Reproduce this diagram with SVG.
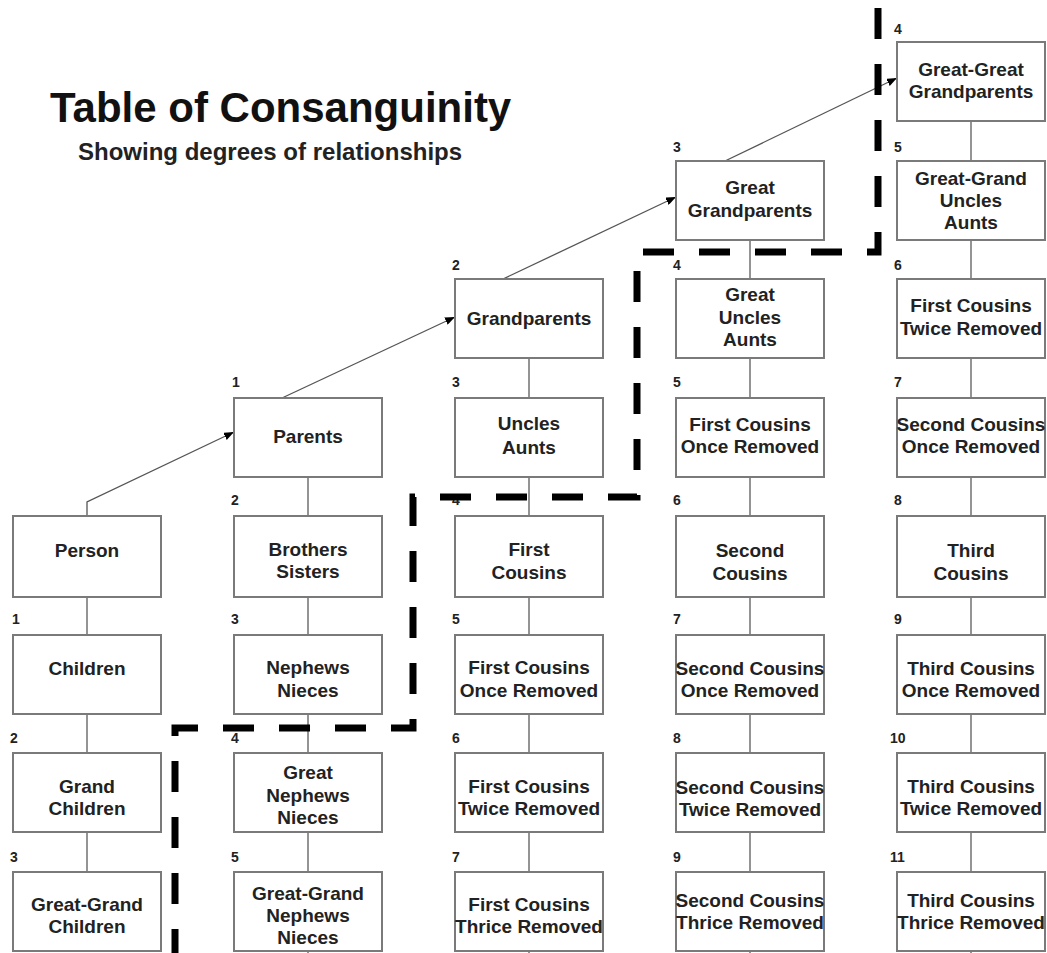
<svg xmlns="http://www.w3.org/2000/svg" width="1047" height="953" viewBox="0 0 1047 953">
<defs>
<style>
.bg{fill:#ffffff}
.box{fill:#ffffff;stroke:#7a7a7a;stroke-width:2}
.t{font-family:"Liberation Sans",Arial,sans-serif;font-weight:bold;font-size:19px;fill:#222222;text-anchor:middle}
.n{font-family:"Liberation Sans",Arial,sans-serif;font-weight:bold;font-size:14px;fill:#222222}
.v{stroke:#7a7a7a;stroke-width:1.6;fill:none}
.a{stroke:#555555;stroke-width:1.3;fill:none;marker-end:url(#ah)}
.title{font-family:"Liberation Sans",Arial,sans-serif;font-weight:bold;font-size:42px;fill:#111111}
.sub{font-family:"Liberation Sans",Arial,sans-serif;font-weight:bold;font-size:24px;fill:#222222}
.dash{stroke:#000000;stroke-width:7;fill:none;stroke-dasharray:31 25;stroke-dashoffset:48}
</style>
<marker id="ah" markerWidth="10" markerHeight="8" refX="10" refY="4" orient="auto" markerUnits="userSpaceOnUse">
<path d="M0,0 L10,4 L0,8 Z" fill="#000000"/>
</marker>
</defs>
<rect class="bg" x="0" y="0" width="1047" height="953"/>
<text class="title" x="50" y="122">Table of Consanguinity</text>
<text class="sub" x="78" y="160">Showing degrees of relationships</text>

<g id="connectors">
<path class="v" d="M87,597 V635 M87,714 V753 M87,832 V872"/>
<path class="v" d="M308,477 V516 M308,597 V635 M308,714 V753 M308,832 V872 M308,951 V953"/>
<path class="v" d="M529,358 V398 M529,477 V516 M529,597 V635 M529,714 V753 M529,832 V872 M529,951 V953"/>
<path class="v" d="M750,240 V279 M750,358 V398 M750,477 V516 M750,597 V635 M750,714 V753 M750,832 V872 M750,951 V953"/>
<path class="v" d="M971,121 V161 M971,240 V279 M971,358 V398 M971,477 V516 M971,597 V635 M971,714 V753 M971,832 V872 M971,951 V953"/>
<path class="a" d="M87,516 V502 L234,432"/>
<path class="a" d="M282,398 L455,317"/>
<path class="a" d="M503,279 L676,197"/>
<path class="a" d="M725,161 L897,78"/>
</g>

<g id="col1">
<g id="person"><rect class="box" x="13" y="516" width="148" height="81"/><text class="t" x="87" y="557">Person</text></g>
<g id="children"><rect class="box" x="13" y="635" width="148" height="79"/><text class="n" x="12" y="624">1</text><text class="t" x="87" y="675">Children</text></g>
<g id="grandchildren"><rect class="box" x="13" y="753" width="148" height="79"/><text class="n" x="10" y="743">2</text><text class="t" x="87" y="793">Grand</text><text class="t" x="87" y="815">Children</text></g>
<g id="greatgrandchildren"><rect class="box" x="13" y="872" width="148" height="79"/><text class="n" x="10" y="862">3</text><text class="t" x="87" y="911">Great-Grand</text><text class="t" x="87" y="933">Children</text></g>
</g>

<g id="col2">
<g id="parents"><rect class="box" x="234" y="398" width="148" height="79"/><text class="n" x="232" y="387">1</text><text class="t" x="308" y="443">Parents</text></g>
<g id="siblings"><rect class="box" x="234" y="516" width="148" height="81"/><text class="n" x="231" y="505">2</text><text class="t" x="308" y="556">Brothers</text><text class="t" x="308" y="578">Sisters</text></g>
<g id="nephews"><rect class="box" x="234" y="635" width="148" height="79"/><text class="n" x="231" y="624">3</text><text class="t" x="308" y="674">Nephews</text><text class="t" x="308" y="697">Nieces</text></g>
<g id="greatnephews"><rect class="box" x="234" y="753" width="148" height="79"/><text class="n" x="231" y="743">4</text><text class="t" x="308" y="779">Great</text><text class="t" x="308" y="802">Nephews</text><text class="t" x="308" y="824">Nieces</text></g>
<g id="greatgrandnephews"><rect class="box" x="234" y="872" width="148" height="79"/><text class="n" x="231" y="862">5</text><text class="t" x="308" y="900">Great-Grand</text><text class="t" x="308" y="922">Nephews</text><text class="t" x="308" y="944">Nieces</text></g>
</g>

<g id="col3">
<g id="grandparents"><rect class="box" x="455" y="279" width="148" height="79"/><text class="n" x="452" y="270">2</text><text class="t" x="529" y="325">Grandparents</text></g>
<g id="uncles"><rect class="box" x="455" y="398" width="148" height="79"/><text class="n" x="452" y="387">3</text><text class="t" x="529" y="430">Uncles</text><text class="t" x="529" y="454">Aunts</text></g>
<g id="firstcousins"><rect class="box" x="455" y="516" width="148" height="81"/><text class="n" x="452" y="505">4</text><text class="t" x="529" y="556">First</text><text class="t" x="529" y="579">Cousins</text></g>
<g id="fc1r-a"><rect class="box" x="455" y="635" width="148" height="79"/><text class="n" x="452" y="624">5</text><text class="t" x="529" y="674">First Cousins</text><text class="t" x="529" y="697">Once Removed</text></g>
<g id="fc2r-a"><rect class="box" x="455" y="753" width="148" height="79"/><text class="n" x="452" y="743">6</text><text class="t" x="529" y="793">First Cousins</text><text class="t" x="529" y="815">Twice Removed</text></g>
<g id="fc3r"><rect class="box" x="455" y="872" width="148" height="79"/><text class="n" x="452" y="862">7</text><text class="t" x="529" y="911">First Cousins</text><text class="t" x="529" y="933">Thrice Removed</text></g>
</g>

<g id="col4">
<g id="greatgrandparents"><rect class="box" x="676" y="161" width="148" height="79"/><text class="n" x="673" y="152">3</text><text class="t" x="750" y="194">Great</text><text class="t" x="750" y="217">Grandparents</text></g>
<g id="greatuncles"><rect class="box" x="676" y="279" width="148" height="79"/><text class="n" x="673" y="270">4</text><text class="t" x="750" y="301">Great</text><text class="t" x="750" y="324">Uncles</text><text class="t" x="750" y="346">Aunts</text></g>
<g id="fc1r-b"><rect class="box" x="676" y="398" width="148" height="79"/><text class="n" x="673" y="387">5</text><text class="t" x="750" y="431">First Cousins</text><text class="t" x="750" y="453">Once Removed</text></g>
<g id="secondcousins"><rect class="box" x="676" y="516" width="148" height="81"/><text class="n" x="673" y="505">6</text><text class="t" x="750" y="557">Second</text><text class="t" x="750" y="580">Cousins</text></g>
<g id="sc1r-a"><rect class="box" x="676" y="635" width="148" height="79"/><text class="n" x="673" y="624">7</text><text class="t" x="750" y="675">Second Cousins</text><text class="t" x="750" y="697">Once Removed</text></g>
<g id="sc2r"><rect class="box" x="676" y="753" width="148" height="79"/><text class="n" x="673" y="743">8</text><text class="t" x="750" y="794">Second Cousins</text><text class="t" x="750" y="816">Twice Removed</text></g>
<g id="sc3r"><rect class="box" x="676" y="872" width="148" height="79"/><text class="n" x="673" y="862">9</text><text class="t" x="750" y="907">Second Cousins</text><text class="t" x="750" y="929">Thrice Removed</text></g>
</g>

<g id="col5">
<g id="greatgreatgrandparents"><rect class="box" x="897" y="42" width="148" height="79"/><text class="n" x="894" y="34">4</text><text class="t" x="971" y="76">Great-Great</text><text class="t" x="971" y="98">Grandparents</text></g>
<g id="greatgranduncles"><rect class="box" x="897" y="161" width="148" height="79"/><text class="n" x="894" y="152">5</text><text class="t" x="971" y="185">Great-Grand</text><text class="t" x="971" y="207">Uncles</text><text class="t" x="971" y="229">Aunts</text></g>
<g id="fc2r-b"><rect class="box" x="897" y="279" width="148" height="79"/><text class="n" x="894" y="270">6</text><text class="t" x="971" y="312">First Cousins</text><text class="t" x="971" y="335">Twice Removed</text></g>
<g id="sc1r-b"><rect class="box" x="897" y="398" width="148" height="79"/><text class="n" x="894" y="387">7</text><text class="t" x="971" y="431">Second Cousins</text><text class="t" x="971" y="453">Once Removed</text></g>
<g id="thirdcousins"><rect class="box" x="897" y="516" width="148" height="81"/><text class="n" x="894" y="505">8</text><text class="t" x="971" y="557">Third</text><text class="t" x="971" y="580">Cousins</text></g>
<g id="tc1r"><rect class="box" x="897" y="635" width="148" height="79"/><text class="n" x="894" y="624">9</text><text class="t" x="971" y="675">Third Cousins</text><text class="t" x="971" y="697">Once Removed</text></g>
<g id="tc2r"><rect class="box" x="897" y="753" width="148" height="79"/><text class="n" x="890" y="743">10</text><text class="t" x="971" y="793">Third Cousins</text><text class="t" x="971" y="815">Twice Removed</text></g>
<g id="tc3r"><rect class="box" x="897" y="872" width="148" height="79"/><text class="n" x="890" y="862">11</text><text class="t" x="971" y="907">Third Cousins</text><text class="t" x="971" y="929">Thrice Removed</text></g>
</g>

<path class="dash" d="M878,0 V252 H637 V497 H413 V728 H175 V953"/>
</svg>
